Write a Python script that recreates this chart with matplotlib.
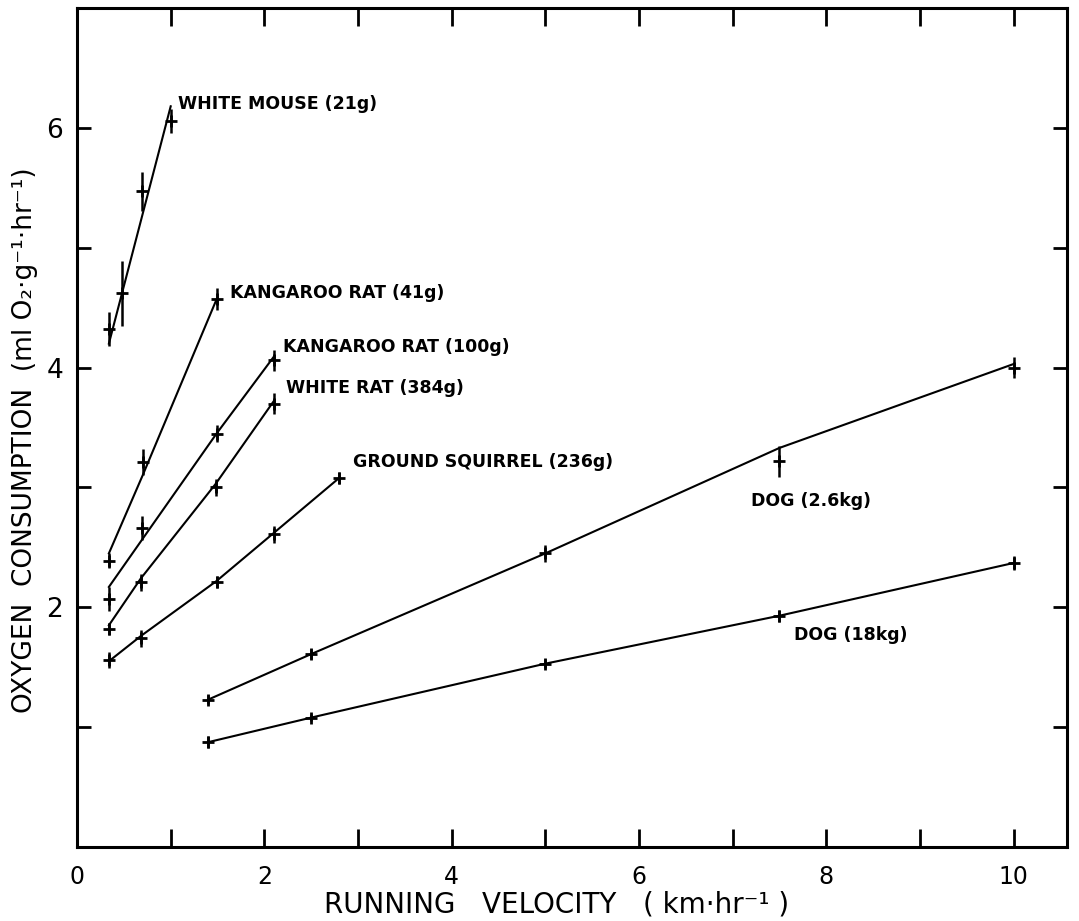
import matplotlib.pyplot as plt
from matplotlib.ticker import MultipleLocator

# Oxygen consumption vs running velocity
mouse_x = [0.34, 0.48, 0.69, 1.0]
mouse_y = [4.32, 4.62, 5.47, 6.06]
mouse_err = [0.14, 0.27, 0.16, 0.10]
mouse_fit = [4.20, 4.62, 5.25, 6.18]

krat41_x = [0.34, 0.70, 1.49]
krat41_y = [2.39, 3.21, 4.57]
krat41_err = [0.06, 0.11, 0.09]
krat41_fit = [2.45, 3.10, 4.57]

krat100_x = [0.34, 0.69, 1.49, 2.10]
krat100_y = [2.07, 2.66, 3.45, 4.06]
krat100_err = [0.10, 0.10, 0.07, 0.09]
krat100_fit = [2.17, 2.56, 3.45, 4.09]

wrat_x = [0.34, 0.68, 1.48, 2.10]
wrat_y = [1.82, 2.21, 3.00, 3.70]
wrat_err = [0.05, 0.07, 0.07, 0.09]
wrat_fit = [1.85, 2.24, 3.03, 3.72]

squirrel_x = [0.34, 0.68, 1.49, 2.10, 2.80]
squirrel_y = [1.56, 1.74, 2.21, 2.61, 3.08]
squirrel_err = [0.07, 0.07, 0.05, 0.07, 0.05]
squirrel_fit = [1.55, 1.76, 2.22, 2.62, 3.08]

dog26_x = [1.4, 2.5, 5.0, 7.5, 10.0]
dog26_y = [1.23, 1.61, 2.45, 3.22, 4.00]
dog26_err = [0.04, 0.04, 0.07, 0.13, 0.09]
dog26_fit = [1.23, 1.61, 2.45, 3.33, 4.03]

dog18_x = [1.4, 2.5, 5.0, 7.5, 10.0]
dog18_y = [0.875, 1.08, 1.53, 1.93, 2.37]
dog18_err = [0.05, 0.03, 0.04, 0.05, 0.06]
dog18_fit = [0.875, 1.08, 1.53, 1.93, 2.37]

labels = ["WHITE MOUSE (21g)", "KANGAROO RAT (41g)", "KANGAROO RAT (100g)",
          "WHITE RAT (384g)", "GROUND SQUIRREL (236g)", "DOG (2.6kg)", "DOG (18kg)"]
label_x = [1.08, 1.63, 2.20, 2.23, 2.95, 7.20, 7.66]
label_y = [6.20, 4.62, 4.17, 3.83, 3.21, 2.89, 1.77]

series = [
    (mouse_x, mouse_y, mouse_err, mouse_fit),
    (krat41_x, krat41_y, krat41_err, krat41_fit),
    (krat100_x, krat100_y, krat100_err, krat100_fit),
    (wrat_x, wrat_y, wrat_err, wrat_fit),
    (squirrel_x, squirrel_y, squirrel_err, squirrel_fit),
    (dog26_x, dog26_y, dog26_err, dog26_fit),
    (dog18_x, dog18_y, dog18_err, dog18_fit),
]

fig = plt.figure(figsize=(10.79, 9.21), dpi=100)
ax = fig.add_axes([0.0714, 0.0803, 0.9175, 0.911])

for x, y, err, fit in series:
    ax.plot(x, fit, color="black", lw=1.5)
    ax.errorbar(x, y, yerr=err, fmt="none", ecolor="black", elinewidth=1.8, capsize=0)
    ax.plot(x, y, ls="none", marker="+", ms=9, mew=2, color="black")

for txt, lx, ly in zip(labels, label_x, label_y):
    ax.text(lx, ly, txt, fontsize=12.5, fontweight="bold", ha="left", va="center")

ax.set_xlim(0, 10.57)
ax.set_ylim(0, 7)
ax.xaxis.set_major_locator(MultipleLocator(2))
ax.xaxis.set_minor_locator(MultipleLocator(1))
ax.yaxis.set_major_locator(MultipleLocator(2))
ax.yaxis.set_minor_locator(MultipleLocator(1))
ax.set_yticks([2, 4, 6])

ax.tick_params(axis="both", which="both", direction="in", top=True, right=True, width=2)
ax.tick_params(axis="x", which="both", length=13, pad=13, labelsize=17)
ax.tick_params(axis="y", which="both", length=10, pad=10, labelsize=19)
for s in ax.spines.values():
    s.set_linewidth(2.2)

ax.set_xlabel("RUNNING   VELOCITY   ( km·hr⁻¹ )", fontsize=20)
ax.set_ylabel("OXYGEN  CONSUMPTION  (ml O₂·g⁻¹·hr⁻¹)", fontsize=19)
ax.xaxis.set_label_coords(0.484, -0.052)
ax.yaxis.set_label_coords(-0.039, 0.485)

fig.savefig("out.png", dpi=100)
